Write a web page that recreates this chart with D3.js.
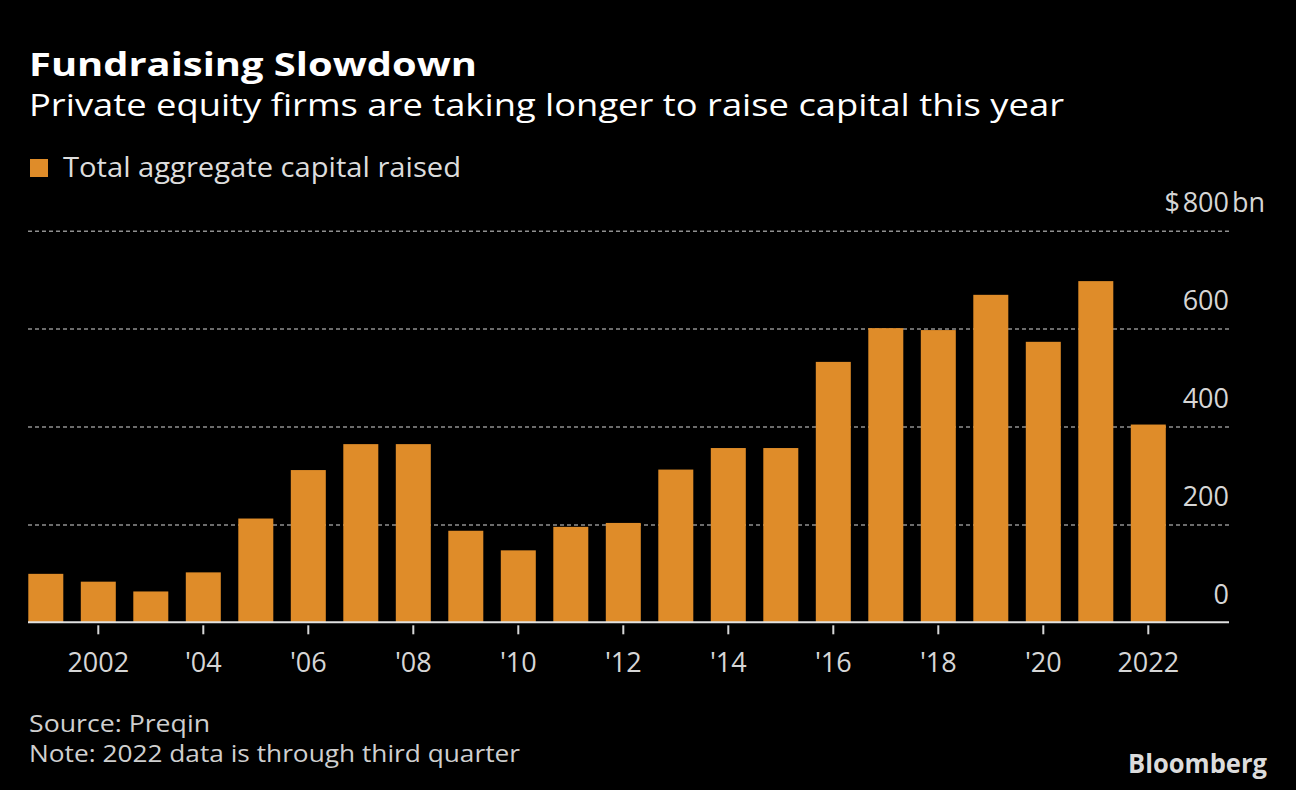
<!DOCTYPE html>
<html>
<head>
<meta charset="utf-8">
<script src="https://cdn.jsdelivr.net/npm/d3@7"></script>
<style>
  html, body { margin: 0; padding: 0; background: #000; }
  svg { display: block; }
  text { font-family: "Open Sans", "DejaVu Sans", sans-serif; }
</style>
</head>
<body>
<svg id="chart" width="1296" height="790"></svg>
<script>
const years = [2001,2002,2003,2004,2005,2006,2007,2008,2009,2010,2011,2012,2013,2014,2015,2016,2017,2018,2019,2020,2021,2022];
const capitalRaised = [99,83,63,102,212,311,364,364,187,147,195,203,312,356,356,532,601,597,669,573,697,404];
const yTicks = [0,200,400,600,800];
const xTickYears = [2002,2004,2006,2008,2010,2012,2014,2016,2018,2020,2022];

const svg = d3.select("#chart");
svg.append("rect").attr("width",1296).attr("height",790).attr("fill","#000");

const barColor = "#df8c29";
const left = 28, right = 1229, y0 = 622.3;
const tickFont = "\"Open Sans\", sans-serif";

const x = d3.scaleBand().domain(years).range([28.3, 1165.8]).paddingInner(1/3).paddingOuter(0);
const y = d3.scaleLinear().domain([0, 800]).range([y0, 230.7]);

// Titles
svg.append("text").attr("x",29).attr("y",76).attr("fill","#fff")
  .attr("font-size",32).attr("font-weight","bold")
  .attr("textLength",448).attr("lengthAdjust","spacingAndGlyphs")
  .text("Fundraising Slowdown");
svg.append("text").attr("x",29).attr("y",116).attr("fill","#fff")
  .attr("font-size",31)
  .attr("textLength",1035).attr("lengthAdjust","spacingAndGlyphs")
  .text("Private equity firms are taking longer to raise capital this year");

// Legend
svg.append("rect").attr("x",30).attr("y",159).attr("width",18).attr("height",18).attr("fill",barColor);
svg.append("text").attr("x",63).attr("y",177).attr("fill","#ddd")
  .attr("font-size",28)
  .attr("textLength",398).attr("lengthAdjust","spacingAndGlyphs")
  .text("Total aggregate capital raised");

// Y axis with gridlines
const yAxis = d3.axisRight(y).tickValues(yTicks).tickSize(-(right-left)).tickFormat(d3.format("d"));
const gy = svg.append("g").attr("transform",`translate(${right},0)`).call(yAxis);
gy.select(".domain").remove();
gy.selectAll(".tick line")
  .attr("stroke","#909090").attr("stroke-width",1.5).attr("stroke-dasharray","4,3")
  .filter(d => d === 0).remove();
gy.selectAll(".tick text")
  .attr("x",0).attr("dy",null).attr("y",-19)
  .attr("text-anchor","end").attr("fill","#d6d6d6")
  .attr("font-size",27).attr("font-family",tickFont);
const topTick = gy.selectAll(".tick").filter(d => d === 800);
topTick.append("text").attr("x",-49).attr("y",-19).attr("text-anchor","end")
  .attr("fill","#d6d6d6").attr("font-size",27).attr("font-family",tickFont).text("$");
topTick.append("text").attr("x",3).attr("y",-19).attr("text-anchor","start")
  .attr("fill","#d6d6d6").attr("font-size",27).attr("font-family",tickFont).text("bn");

// Bars
svg.append("g").selectAll("rect").data(years).join("rect")
  .attr("x", d => x(d))
  .attr("width", x.bandwidth())
  .attr("y", (d,i) => y(capitalRaised[i]))
  .attr("height", (d,i) => y0 - y(capitalRaised[i]))
  .attr("fill", barColor);

// X axis
const xAxis = d3.axisBottom(x).tickValues(xTickYears).tickSize(0).tickPadding(0)
  .tickFormat(d => (d === 2002 || d === 2022) ? String(d) : "'" + String(d).slice(2));
const gx = svg.append("g").attr("transform",`translate(0,${y0})`).call(xAxis);
gx.select(".domain").remove();
gx.selectAll(".tick").append("line").attr("y1",3).attr("y2",12).attr("stroke","#d6d6d6").attr("stroke-width",2);
gx.selectAll(".tick text").attr("y",50).attr("dy",null).attr("fill","#d6d6d6")
  .attr("font-size",27).attr("font-family",tickFont);
svg.append("line").attr("x1",left).attr("x2",right).attr("y1",y0).attr("y2",y0)
  .attr("stroke","#e0e0e0").attr("stroke-width",2);

// Footer
svg.append("text").attr("x",29).attr("y",732).attr("fill","#cfcfcf").attr("font-size",24)
  .attr("textLength",181).attr("lengthAdjust","spacingAndGlyphs").text("Source: Preqin");
svg.append("text").attr("x",29).attr("y",762).attr("fill","#cfcfcf").attr("font-size",24)
  .attr("textLength",491).attr("lengthAdjust","spacingAndGlyphs").text("Note: 2022 data is through third quarter");
svg.append("text").attr("x",1128).attr("y",773).attr("fill","#dcdcdc").attr("font-size",27)
  .attr("font-weight","bold").attr("font-family","\"Liberation Sans\", Arial, sans-serif")
  .attr("textLength",139).attr("lengthAdjust","spacingAndGlyphs").text("Bloomberg");
</script>
</body>
</html>
